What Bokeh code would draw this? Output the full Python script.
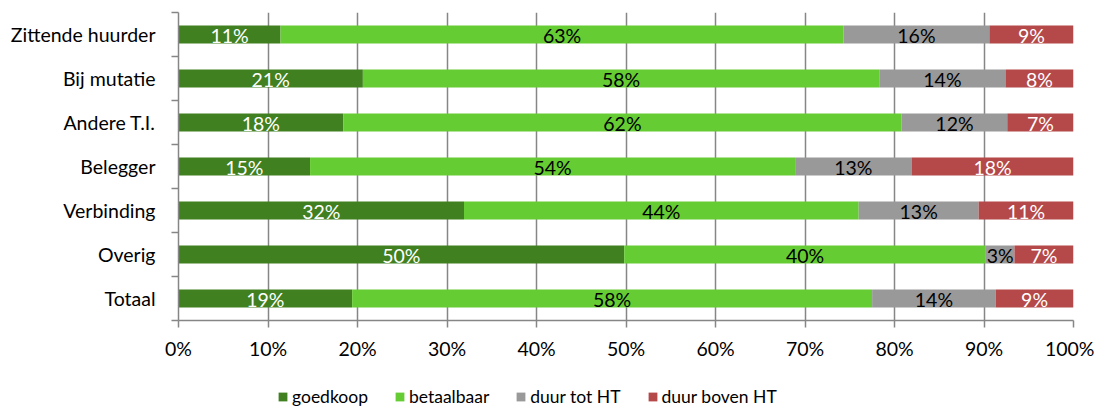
from bokeh.plotting import figure
from bokeh.layouts import column
from bokeh.models import ColumnDataSource, FixedTicker, Legend, LegendItem, Range1d
from bokeh.embed import file_html
from bokeh.resources import INLINE
from bokeh.core.properties import value

categories = ["Zittende huurder", "Bij mutatie", "Andere T.I.", "Belegger",
              "Verbinding", "Overig", "Totaal"]
goedkoop = [11.4, 20.6, 18.4, 14.7, 31.9, 49.8, 19.4]
betaalbaar = [62.9, 57.7, 62.4, 54.2, 44.1, 40.4, 58.1]
duur_tot_ht = [16.3, 14.1, 11.8, 13.0, 13.4, 3.2, 13.8]
duur_boven_ht = [9.4, 7.6, 7.4, 18.1, 10.6, 6.6, 8.7]
series_names = ["goedkoop", "betaalbaar", "duur tot HT", "duur boven HT"]
x_ticks = [0, 10, 20, 30, 40, 50, 60, 70, 80, 90, 100]
x_tick_labels = ["0%", "10%", "20%", "30%", "40%", "50%", "60%", "70%", "80%", "90%", "100%"]

colors = ["#418020", "#66cc33", "#999999", "#b54848"]
label_colors = ["#ffffff", "#000000", "#000000", "#ffffff"]
FONT = "Lato"
FS = "19.5px"
GRID = "#868686"

series = [goedkoop, betaalbaar, duur_tot_ht, duur_boven_ht]
n = len(categories)
ys = [n - i - 0.5 for i in range(n)]

p = figure(frame_width=895, frame_height=308, min_border_left=178, min_border_top=12,
           min_border_right=21, min_border_bottom=50,
           x_range=Range1d(0, 100), y_range=Range1d(0, n),
           output_backend="svg", toolbar_location=None)
p.outline_line_color = None

p.xgrid.ticker = FixedTicker(ticks=x_ticks)
p.xgrid.grid_line_color = GRID
p.xgrid.grid_line_width = 1.5
p.ygrid.visible = False

left = [0.0] * n
tx, ty, tt, tc = [], [], [], []
for k, vals in enumerate(series):
    right = [l + v for l, v in zip(left, vals)]
    src = ColumnDataSource(dict(y=ys, left=left, right=right))
    p.hbar(y="y", left="left", right="right", height=0.41, source=src,
           fill_color=colors[k], line_color=None)
    for i in range(n):
        tx.append((left[i] + right[i]) / 2)
        ty.append(ys[i] - 0.03)
        tt.append("{:.0f}%".format(vals[i]))
        tc.append(label_colors[k])
    left = right

tsrc = ColumnDataSource(dict(x=tx, y=ty, t=tt, c=tc))
p.text(x="x", y="y", text="t", text_color="c", source=tsrc, text_align="center",
       text_baseline="middle", text_font=value(FONT), text_font_size=FS)

xa = p.xaxis[0]
xa.ticker = FixedTicker(ticks=x_ticks)
xa.major_label_overrides = {t: l for t, l in zip(x_ticks, x_tick_labels)}
xa.axis_line_color = GRID
xa.axis_line_width = 1.5
xa.major_tick_line_color = GRID
xa.major_tick_line_width = 1.5
xa.major_tick_out = 7
xa.major_tick_in = 0
xa.minor_tick_line_color = None
xa.major_label_standoff = 9
xa.major_label_text_font = FONT
xa.major_label_text_font_size = FS
xa.major_label_text_color = "#000000"

ya = p.yaxis[0]
ya.ticker = FixedTicker(ticks=ys, minor_ticks=list(range(n + 1)))
ya.major_label_overrides = {y: c for y, c in zip(ys, categories)}
ya.axis_line_color = GRID
ya.axis_line_width = 1.5
ya.major_tick_line_color = None
ya.major_tick_out = 0
ya.major_tick_in = 0
ya.minor_tick_line_color = GRID
ya.minor_tick_line_width = 1.5
ya.minor_tick_out = 7
ya.minor_tick_in = 0
ya.major_label_standoff = 16
ya.major_label_text_font = FONT
ya.major_label_text_font_size = FS
ya.major_label_text_color = "#000000"

# legend strip below the chart (legend-only renderers, kept outside the visible range)
pl = figure(width=1094, height=37, min_border=0, x_range=Range1d(0, 1), y_range=Range1d(0, 1),
            x_axis_location=None, y_axis_location=None,
            output_backend="svg", toolbar_location=None)
pl.outline_line_color = None
pl.xgrid.visible = False
pl.ygrid.visible = False
lrs = []
for k in range(len(series_names)):
    lsrc = ColumnDataSource(dict(y=[-10], left=[-10], right=[-9]))
    lrs.append(pl.hbar(y="y", left="left", right="right", height=0.5, source=lsrc,
                       fill_color=colors[k], line_color=None))

legend = Legend(items=[LegendItem(label=s, renderers=[r]) for s, r in zip(series_names, lrs)],
                orientation="horizontal", location=(99, 0))
legend.border_line_color = None
legend.background_fill_alpha = 0
legend.padding = 0
legend.margin = 0
legend.spacing = 26
legend.glyph_width = 11
legend.glyph_height = 11
legend.label_standoff = 4
legend.label_text_font = FONT
legend.label_text_font_size = "17.5px"
legend.label_text_color = "#000000"
pl.add_layout(legend)

layout = column(p, pl, spacing=0)
open("out.html", "w").write(file_html(layout, INLINE))
